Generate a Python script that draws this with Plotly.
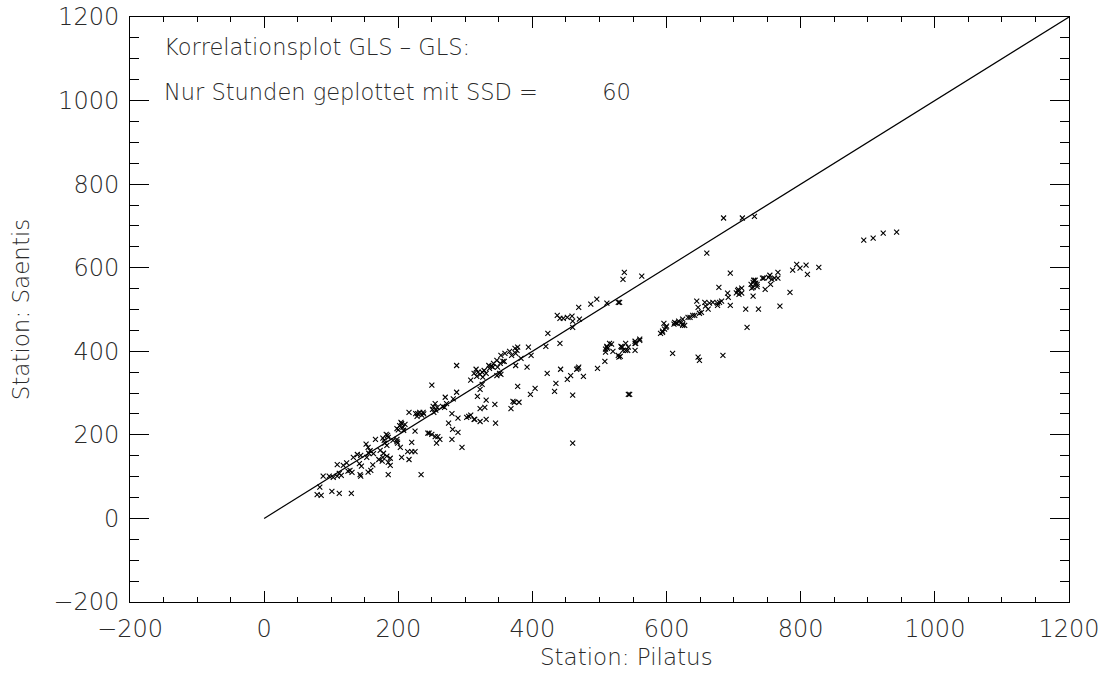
import plotly.graph_objects as go

# Station Pilatus (x) vs Station Saentis (y), hourly values with SSD = 60
pilatus = [
    79, 85, 83, 101, 112, 130,
    88, 97, 103, 109, 112, 115, 125, 128, 131, 143, 144,
    109, 118, 123, 133, 139, 144, 142, 145,
    152, 155, 158, 156, 163, 153, 155, 159, 162, 166,
    171, 173, 177, 178, 183, 185, 188, 176,
    177, 179, 184, 182, 185, 180, 183, 192, 198, 198, 199, 203, 205,
    185, 188,
    198, 202, 205, 200, 207, 210, 204, 208,
    214, 220, 225, 216, 220, 225,
    216, 226, 229, 232, 235, 237, 228, 238,
    234,
    244, 246, 250, 255, 259, 262, 257, 250,
    251, 252, 253, 255, 256, 258, 266, 269, 270, 272,
    275, 280, 282, 281, 280, 287, 287, 289, 289, 295,
    302, 305, 308, 308, 313, 314, 316, 313, 319, 322, 317, 318, 322, 322, 322, 325, 326,
    328, 325, 331, 329, 331, 331, 335, 336, 339, 341, 342, 347, 348, 351, 353, 344, 345,
    347, 352, 353, 356, 358, 359, 366, 368, 369, 371, 373, 374, 375, 375, 377, 378,
    380, 378, 383, 392, 394, 397, 398, 404,
    420, 422, 423, 433, 435, 437, 441, 441, 442, 446, 452, 452, 457, 459, 460, 460,
    460, 460, 466, 468, 469, 470, 476, 469, 487, 496, 497, 508, 509, 509, 511, 511,
    512, 515, 518, 520, 511, 528, 530, 528, 529, 531, 533, 535, 532, 534, 539, 539,
    542, 543, 543, 545, 535, 537, 553, 553, 554, 553, 560, 560, 563,
    591, 594, 594, 596, 597, 599, 600, 609, 611, 612, 614, 616, 618, 622, 624, 624,
    624, 627, 632, 635, 639, 642, 645, 647, 647, 649, 649, 652, 657, 658, 660, 662,
    664, 669, 676, 676, 678, 679, 682, 684, 685, 691, 692, 695, 695, 704, 706, 707,
    708, 712, 712, 713, 718, 720, 726, 727, 729, 729, 730, 729, 731, 732, 733, 735,
    735, 737, 743, 745, 747, 752, 754, 755, 757, 761, 766, 766, 769, 784, 788, 794,
    799, 808, 810, 827, 894, 908, 923, 943,
]
saentis = [
    57, 55, 75, 65, 60, 60,
    101, 101, 98, 101, 108, 103, 113, 115, 110, 105, 101,
    129, 127, 133, 146, 153, 151, 131, 125,
    178, 170, 162, 156, 155, 146, 111, 115, 128, 189,
    141, 163, 146, 156, 149, 134, 144, 137,
    192, 187, 199, 201, 194, 180, 175, 187, 184, 189, 180, 170, 146,
    105, 127,
    215, 222, 227, 212, 218, 225, 230, 211,
    160, 160, 160, 141, 182, 209,
    254, 251, 251, 254, 247, 254, 244, 250,
    105,
    204, 204, 201, 196, 196, 189, 180, 319,
    261, 268, 254, 275, 259, 266, 268, 266, 290, 275,
    228, 251, 286, 213, 189, 366, 302, 240, 206, 170,
    242, 244, 247, 331, 237, 237, 357, 347, 350, 345, 340, 292, 263, 232, 309, 321, 338,
    354, 350, 347, 266, 283, 237, 366, 359, 364, 362, 371, 342, 362, 347, 345, 273, 228,
    378, 371, 390, 376, 376, 395, 400, 263, 390, 280, 278, 407, 395, 366, 402, 410,
    278, 316, 383, 362, 410, 297, 390, 311,
    412, 347, 443, 304, 323, 486, 479, 419, 357, 479, 481, 333, 342, 484, 472, 457,
    295, 180, 357, 359, 362, 477, 340, 505, 513, 525, 359, 376, 398, 405, 410, 412,
    407, 419, 417, 400, 515, 517, 517, 390, 386, 388, 410, 402, 412, 410, 419, 402,
    402, 410, 297, 297, 572, 589, 419, 424, 419, 402, 426, 429, 580,
    443, 445, 448, 467, 453, 457, 460, 395, 465, 469, 467, 467, 472, 469, 477, 465,
    462, 462, 481, 481, 486, 486, 520, 505, 386, 378, 491, 493, 517, 508, 635, 501,
    515, 517, 515, 510, 553, 517, 520, 390, 719, 539, 529, 587, 510, 540, 545, 548,
    536, 551, 539, 719, 501, 457, 560, 551, 553, 565, 570, 532, 723, 570, 563, 560,
    555, 501, 575, 575, 548, 577, 582, 560, 572, 575, 589, 575, 508, 541, 594, 608,
    599, 606, 584, 601, 666, 671, 683, 685,
]

# 1:1 reference line
diag_x = [0, 1200]
diag_y = [0, 1200]

tick_vals = [-200, 0, 200, 400, 600, 800, 1000, 1200]

title_line1 = "Korrelationsplot GLS – GLS:"
title_line2 = "Nur Stunden geplottet mit SSD =         60"
x_title = "Station: Pilatus"
y_title = "Station: Saentis"

FONT = "DejaVu Sans"
TXT = "#2a2a2a"

fig = go.Figure()
fig.add_trace(go.Scatter(
    x=diag_x, y=diag_y, mode="lines",
    line=dict(color="black", width=1.2), hoverinfo="skip", showlegend=False,
))
fig.add_trace(go.Scatter(
    x=pilatus, y=saentis, mode="markers",
    marker=dict(symbol="x-thin", size=5, line=dict(color="black", width=1.1), color="black"),
    showlegend=False,
))

axis_common = dict(
    showgrid=False, zeroline=False, showline=True, linecolor="black", linewidth=1,
    mirror="allticks", ticks="inside", tickcolor="black", tickwidth=1,
    tickfont=dict(family=FONT, size=24, color=TXT, weight=200),
    tickvals=tick_vals, automargin=False,
)

fig.update_xaxes(
    range=[-200, 1200], ticklen=11, ticklabelstandoff=5,
    minor=dict(dtick=50, tick0=0, ticks="inside", ticklen=5, tickcolor="black", showgrid=False),
    **axis_common,
)
fig.update_yaxes(
    range=[-200, 1200], ticklen=19, ticklabelstandoff=5,
    minor=dict(dtick=50, tick0=0, ticks="inside", ticklen=9, tickcolor="black", showgrid=False),
    title=dict(text=y_title, font=dict(family=FONT, size=23, color=TXT, weight=200), standoff=17),
    **axis_common,
)

# x-axis title (placed as in the reference, slightly right of centre)
fig.add_annotation(x=0.529, y=-0.094, xref="paper", yref="paper", text=x_title, showarrow=False,
                   xanchor="center", yanchor="middle", font=dict(family=FONT, size=23, color=TXT, weight=200))

fig.add_annotation(x=-152, y=1128, xref="x", yref="y", text=title_line1, showarrow=False,
                   xanchor="left", yanchor="middle", font=dict(family=FONT, size=22.5, color=TXT, weight=200))
fig.add_annotation(x=-152, y=1020, xref="x", yref="y", text=title_line2, showarrow=False,
                   xanchor="left", yanchor="middle", font=dict(family=FONT, size=22.5, color=TXT, weight=200))

fig.update_layout(
    width=1101, height=673,
    margin=dict(l=130, r=32, t=17, b=71, autoexpand=False),
    paper_bgcolor="white", plot_bgcolor="white",
)

fig.write_html("out.html", config={"displayModeBar": False},
               post_script="document.body.style.margin='0';document.body.style.overflow='hidden';")
